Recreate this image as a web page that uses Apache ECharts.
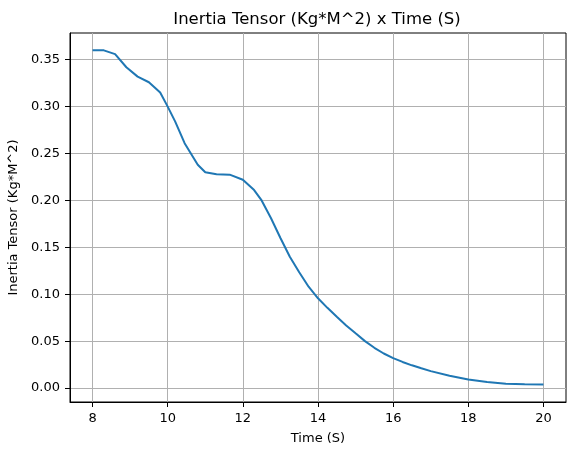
<!DOCTYPE html>
<html>
<head>
<meta charset="utf-8">
<script src="https://cdn.jsdelivr.net/npm/echarts@6/dist/echarts.min.js"></script>
<style>
html,body{margin:0;padding:0;background:#fff;}
#chart{width:576px;height:455px;}
</style>
</head>
<body>
<div id="chart"></div>
<script>
const timeValues = [8.0, 8.3, 8.6, 8.9, 9.2, 9.5, 9.8, 10.0, 10.2, 10.45, 10.8, 11.0, 11.3, 11.65, 12.0, 12.3, 12.5, 12.75, 13.0, 13.25, 13.5, 13.75, 14.0, 14.25, 14.5, 14.75, 15.0, 15.25, 15.5, 15.75, 16.0, 16.25, 16.5, 16.75, 17.0, 17.5, 18.0, 18.5, 19.0, 19.5, 20.0];
const inertiaValues = [0.360, 0.360, 0.356, 0.342, 0.332, 0.326, 0.315, 0.300, 0.284, 0.261, 0.238, 0.230, 0.228, 0.2275, 0.222, 0.211, 0.200, 0.181, 0.160, 0.140, 0.1235, 0.108, 0.0957, 0.0855, 0.0760, 0.0667, 0.0583, 0.0500, 0.0429, 0.0368, 0.0319, 0.0278, 0.0242, 0.0210, 0.0180, 0.0130, 0.0090, 0.0063, 0.0046, 0.0039, 0.0038];
const xTicks = [8, 10, 12, 14, 16, 18, 20];
const yTicks = [0, 0.05, 0.10, 0.15, 0.20, 0.25, 0.30, 0.35];

const font = 'DejaVu Sans';
const chart = echarts.init(document.getElementById('chart'), null, {renderer: 'canvas'});
chart.setOption({
  animation: false,
  backgroundColor: '#fff',
  title: {
    text: 'Inertia Tensor (Kg*M^2) x Time (S)',
    left: 312, top: 6, textAlign: 'center',
    textStyle: {fontFamily: font, fontSize: 16.5, fontWeight: 'normal', color: '#000'}
  },
  grid: {left: 70, right: 10, top: 33, bottom: 53, show: true, borderColor: '#000', borderWidth: 1, backgroundColor: 'transparent', containLabel: false, outerBoundsMode: 'none'},
  xAxis: {
    type: 'value', min: 7.4, max: 20.6,
    name: 'Time (S)', nameLocation: 'middle', nameGap: 30,
    nameTextStyle: {fontFamily: font, fontSize: 13, color: '#000'},
    axisLine: {show: true, onZero: false, lineStyle: {color: '#000', width: 1}},
    axisTick: {show: true, length: 5, lineStyle: {color: '#000'}, customValues: xTicks},
    axisLabel: {fontFamily: font, fontSize: 13, color: '#000', margin: 10, customValues: xTicks, formatter: v => String(v)},
    splitLine: {show: true, lineStyle: {color: '#b0b0b0', width: 1}}
  },
  yAxis: {
    type: 'value', min: -0.0149, max: 0.3785,
    name: 'Inertia Tensor (Kg*M^2)', nameLocation: 'middle', nameGap: 42, nameRotate: 90,
    nameTextStyle: {fontFamily: font, fontSize: 13, color: '#000'},
    axisLine: {show: true, onZero: false, lineStyle: {color: '#000', width: 1}},
    axisTick: {show: true, length: 5, lineStyle: {color: '#000'}, customValues: yTicks},
    axisLabel: {fontFamily: font, fontSize: 13, color: '#000', margin: 10, customValues: yTicks, formatter: v => v.toFixed(2)},
    splitLine: {show: true, lineStyle: {color: '#b0b0b0', width: 1}}
  },
  series: [{
    type: 'line',
    data: timeValues.map((t, i) => [t, inertiaValues[i]]),
    showSymbol: false,
    smooth: false,
    lineStyle: {color: '#1f77b4', width: 2},
    itemStyle: {color: '#1f77b4'}
  }]
});
</script>
</body>
</html>
